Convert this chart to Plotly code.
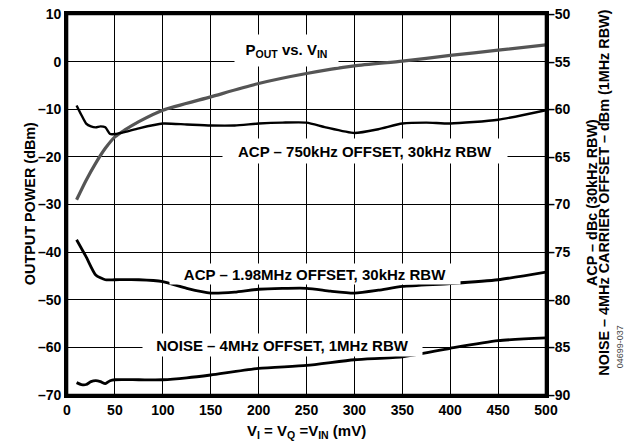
"""Output power, ACP and noise vs. input voltage"""
import plotly.graph_objects as go

# data
vin_pout = [10, 20, 30, 40, 50, 60, 75, 100, 150, 200, 250, 300, 350, 400, 450, 500]
pout_dbm = [-29.0, -24.9, -21.3, -18.2, -15.8, -14.4, -12.6, -10.2, -7.4, -4.6, -2.5, -0.9, 0.1, 1.3, 2.4, 3.5]

vin_acp750 = [10, 15, 20, 25, 30, 35, 40, 45, 50, 60, 75, 100, 125, 150, 175, 200, 225, 250,
              270, 300, 325, 350, 375, 400, 450, 500]
acp750_dbc = [-59.6, -60.6, -61.5, -61.8, -61.9, -61.8, -61.9, -62.6, -62.6, -62.4, -62.0, -61.5,
              -61.6, -61.7, -61.7, -61.5, -61.4, -61.4, -61.9, -62.5, -62.1, -61.5, -61.4, -61.5,
              -61.1, -60.1]

vin_acp198 = [10, 20, 30, 40, 50, 75, 100, 125, 150, 175, 200, 250, 275, 300, 325, 350, 400, 450, 500]
acp198_dbc = [-73.7, -75.5, -77.4, -77.9, -77.9, -77.9, -78.1, -78.8, -79.3, -79.2, -78.9, -78.8,
              -79.1, -79.3, -79.0, -78.6, -78.3, -77.9, -77.1]

vin_noise = [10, 15, 20, 25, 30, 35, 40, 45, 50, 75, 100, 125, 150, 200, 250, 300, 350, 400, 450, 500]
noise_dbm = [-88.7, -88.9, -88.9, -88.6, -88.5, -88.6, -88.8, -88.5, -88.4, -88.4, -88.4, -88.2,
             -87.9, -87.2, -86.9, -86.3, -86.0, -85.1, -84.3, -84.0]

x_ticks = [0, 50, 100, 150, 200, 250, 300, 350, 400, 450, 500]
left_ticks = [10, 0, -10, -20, -30, -40, -50, -60, -70]
right_ticks = [-50, -55, -60, -65, -70, -75, -80, -85, -90]


def dash(v):
    return str(v).replace("-", "\u2013")


FONT = "Liberation Sans, Arial, sans-serif"

fig = go.Figure()
fig.add_trace(go.Scatter(x=vin_pout, y=pout_dbm, mode="lines", line=dict(color="#555555", width=3.2, shape="spline", smoothing=0.6)))
fig.add_trace(go.Scatter(x=vin_acp750, y=acp750_dbc, yaxis="y2", mode="lines", line=dict(color="black", width=2.4, shape="spline", smoothing=0.6)))
fig.add_trace(go.Scatter(x=vin_acp198, y=acp198_dbc, yaxis="y2", mode="lines", line=dict(color="black", width=2.8, shape="spline", smoothing=0.6)))
fig.add_trace(go.Scatter(x=vin_noise, y=noise_dbm, yaxis="y2", mode="lines", line=dict(color="black", width=2.8, shape="spline", smoothing=0.6)))

tickfont = dict(family=FONT, size=14, color="black", weight="bold")
lblfont = dict(family=FONT, size=15, color="black", weight="bold")
sidefont = dict(family=FONT, size=14.4, color="black", weight="bold")

# the page body adds an 8px margin, so the figure is 8px smaller each way
fig.update_layout(
    width=636, height=434,
    margin=dict(l=59, r=98, t=6, b=47),
    paper_bgcolor="white", plot_bgcolor="white",
    showlegend=False,
    xaxis=dict(range=[0, 500], tickvals=x_ticks, ticktext=[dash(v) for v in x_ticks],
               showgrid=True, gridcolor="black", gridwidth=1.3, zeroline=False,
               showline=True, linecolor="black", linewidth=2.6, mirror=True,
               tickfont=tickfont, ticks="", automargin=False, ticklabeloverflow="allow"),
    yaxis=dict(range=[-70, 10], tickvals=left_ticks, ticktext=[dash(v) for v in left_ticks],
               showgrid=True, gridcolor="black", gridwidth=1.3, zeroline=False,
               showline=True, linecolor="black", linewidth=2.6, mirror=True,
               tickfont=tickfont, ticks="", automargin=False, ticklabeloverflow="allow"),
    yaxis2=dict(range=[-90, -50], overlaying="y", side="right",
                tickvals=right_ticks, ticktext=[dash(v) for v in right_ticks],
                showgrid=False, zeroline=False, tickfont=tickfont, ticks="",
                automargin=False, ticklabeloverflow="allow"),
)

# plot frame
fig.add_shape(type="rect", xref="paper", yref="paper", x0=0, x1=1, y0=0, y1=1,
              line=dict(color="black", width=2.6), layer="above")

# curve labels on white boxes that hide the grid
labels = [
    ("P<sub>OUT</sub> vs. V<sub>IN</sub>", 229, 2.3, 103, 31),
    ("ACP \u2013 750kHz OFFSET, 30kHz RBW", 311, -18.7, 284, 24),
    ("ACP \u2013 1.98MHz OFFSET, 30kHz RBW", 259, -44.6, 290, 20),
    ("NOISE \u2013 4MHz OFFSET, 1MHz RBW", 225, -59.5, 279, 22),
]
for txt, x, y, w, h in labels:
    fig.add_annotation(text=txt, x=x, y=y, xref="x", yref="y", showarrow=False,
                       width=w, height=h, bgcolor="white", borderpad=0, font=lblfont)

# axis titles
fig.add_annotation(text="V<sub>I</sub> = V<sub>Q</sub> =V<sub>IN</sub> (mV)", x=0.5, y=-0.097,
                   xref="paper", yref="paper", showarrow=False, yanchor="middle", font=lblfont)
fig.add_annotation(text="OUTPUT POWER (dBm)", x=-0.098, y=0.501, xref="paper", yref="paper",
                   showarrow=False, textangle=-90, font=sidefont)
fig.add_annotation(text="ACP \u2013 dBc (30kHz RBW)", x=1.117, y=0.504, xref="paper", yref="paper",
                   showarrow=False, textangle=-90, font=sidefont)
fig.add_annotation(text="NOISE \u2013 4MHz CARRIER OFFSET \u2013 dBm (1MHz RBW)", x=1.142, y=0.531,
                   xref="paper", yref="paper", showarrow=False, textangle=-90, font=sidefont)
fig.add_annotation(text="04699-037", x=1.169, y=0.066, xref="paper", yref="paper",
                   showarrow=False, textangle=-90, font=dict(family=FONT, size=9, color="#444444"))

fig.write_html("out.html")
